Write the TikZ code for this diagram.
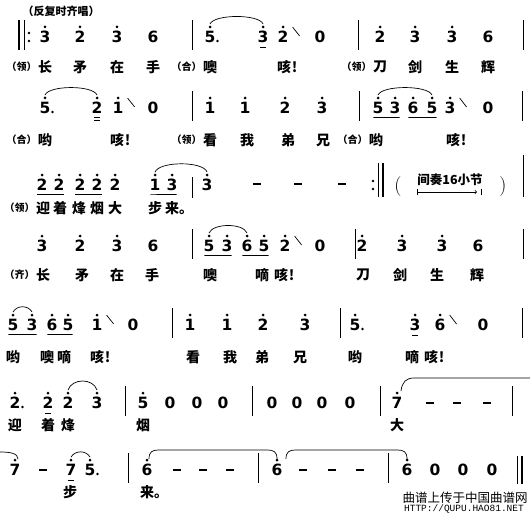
\documentclass[tikz,border=0pt]{standalone}
\usepackage{fontspec}
\usetikzlibrary{positioning,calc}
\newfontfamily\numfont{DejaVu Sans}
\newfontfamily\cjk{Noto Sans CJK SC}
\newfontfamily\urlfont{Liberation Mono}

% one row of notes: name, y, list of x/digit/mark (1 = high dot, 2 = high dot and dotted)
\newcommand\noterow[3]{%
  \foreach \x/\d/\m [count=\i] in {#3}{%
    \node[note] (#1\i) at (\x,#2) {\d};
    \ifcase\m
    \or \fill (\x,#2-10) circle (1.5pt);
    \or \fill (\x,#2-10) circle (1.5pt) (\x+7.5,#2+4) circle (1.4pt);
    \fi
  }}
\newcommand\wordrow[3]{%
  \foreach \x/\w [count=\i] in {#3}{\node[word] (#1\i) at (\x,#2) {\w};}}
\newcommand\bars[2]{\foreach \x in {#2} \draw[barline] (\x,#1-17) -- (\x,#1+13);}
\newcommand\holds[2]{\foreach \x in {#2} \draw[hold] (\x-4,#1) -- (\x+4,#1);}
\newcommand\slurto[3]{\draw[slur] ($(#1.north)+(0,-7)$) .. controls +(4,-#3) and +(-4,-#3) .. ($(#2.north)+(0,-7)$);}
\newcommand\underl[2]{\draw[uline] ($(#1.south west)+(1,3.5)$) -- ($(#2.south east)+(-1,3.5)$);}
\newcommand\shortline[1]{\draw[uline] ($(#1.south)+(-3,4)$) -- ($(#1.south)+(3,4)$);}
\newcommand\breath[1]{\draw[stroke] ($(#1.north east)+(4,-4)$) -- ($(#1.south east)+(11,-7)$);}

\begin{document}
\begin{tikzpicture}
  [x=1pt,y=-1pt,
   note/.style={font=\numfont\bfseries\fontsize{15.5}{15.5}\selectfont,inner sep=0pt},
   word/.style={font=\cjk\bfseries\fontsize{14}{14}\selectfont,inner sep=0pt},
   role/.style={font=\cjk\bfseries\fontsize{10}{10}\selectfont,inner sep=0pt},
   paren/.style={font=\normalfont\fontsize{20}{20}\selectfont,inner sep=0pt},
   barline/.style={line width=0.9pt},
   thickbar/.style={line width=2.5pt},
   slur/.style={line width=0.7pt},
   uline/.style={line width=0.7pt},
   hold/.style={line width=1.5pt},
   stroke/.style={line width=0.7pt},
  ]
 \useasboundingbox[fill=white] (0,0) rectangle (530,516);

 \node[font=\cjk\bfseries\fontsize{11}{11}\selectfont,inner sep=0pt] (head) at (61,11) {（反复时齐唱）};

 % row 1
 \draw[thickbar] (19,20) -- (19,50);
 \draw[barline] (24,20) -- (24,50);
 \fill (29,33) circle (1.3pt) (29,41) circle (1.3pt);
 \noterow{a}{37}{45/3/1,80/2/1,117/3/1,153/6/0,210/5/2,263/3/1,283/2/1,320/0/0,380/2/1,415/3/1,452/3/1,488/6/0}
 \bars{37}{192,358,523}
 \slurto{a5}{a6}{10}
 \shortline{a6}
 \breath{a7}
 \wordrow{la}{67}{45/长,80/矛,117/在,153/手,210/噢,284/{咳\rlap{\kern1pt!}},380/刀,415/剑,452/生,488/辉}
 \node[role,left=1pt of la1] (ra1) {（领）};
 \node[role,left=1pt of la5] (ra5) {（合）};
 \node[role,left=1pt of la7] (ra7) {（领）};

 % row 2
 \noterow{b}{108}{45/5/2,97/2/1,118/1/1,153/0/0,210/1/1,245/1/1,285/2/1,322/3/1,378/5/1,395/3/1,413/6/1,432/5/1,450/3/1,488/0/0}
 \bars{108}{192,359,522}
 \slurto{b1}{b2}{10}
 \slurto{b9}{b12}{10}
 \draw[uline] ($(b2.south)+(-3,3)$) -- ($(b2.south)+(3,3)$)
              ($(b2.south)+(-3,6)$) -- ($(b2.south)+(3,6)$);
 \underl{b9}{b10}
 \underl{b11}{b12}
 \breath{b3}
 \breath{b13}
 \wordrow{lb}{140}{45/哟,117/{咳\rlap{\kern1pt!}},210/看,247/我,288/弟,323/兄,376/哟,453/{咳\rlap{\kern1pt!}}}
 \node[role,left=1pt of lb1] (rb1) {（合）};
 \node[role,left=1pt of lb3] (rb3) {（领）};
 \node[role,left=1pt of lb7] (rb7) {（合）};

 % row 3
 \noterow{c}{185}{42/2/1,59/2/1,80/2/1,97/2/1,115/2/1,155/1/1,172/3/1,207/3/1}
 \draw[barline] (192,177) -- (192,198);
 \draw[barline] (523,155) -- (523,197);
 \slurto{c6}{c8}{11}
 \underl{c1}{c2}
 \underl{c3}{c4}
 \underl{c6}{c7}
 \holds{184}{257,298,342}
 \fill (373,181) circle (1.3pt) (373,189) circle (1.3pt);
 \draw[barline] (378,163) -- (378,197);
 \draw[thickbar] (383,163) -- (383,197);
 \node[paren] (pl) at (398,187) {(};
 \node[paren] (pr) at (503,187) {)};
 \node[font=\cjk\bfseries\fontsize{12.5}{12.5}\selectfont,inner sep=0pt] (jz) at (450,180) {间奏16小节};
 \coordinate (jzl) at (418,192);
 \coordinate (jzr) at (477,192);
 \draw[uline,->] (jzl) -- (jzr);
 \draw[uline] (417,189) -- (417,195) (481,189) -- (481,195);
 \wordrow{lc}{208}{43/迎,60/着,79/烽,97/烟,115/大,155/步,172/{来\rlap{。}}}
 \node[role,left=1pt of lc1] (rc1) {（领）};

 % row 4
 \noterow{d}{246}{42/3/1,80/2/1,117/3/1,153/6/0,209/5/1,227/3/1,247/6/1,264/5/1,285/2/1,320/0/0,362/2/1,402/3/1,442/3/1,478/6/0}
 \bars{246}{192,355,523}
 \slurto{d5}{d7}{10}
 \underl{d5}{d6}
 \underl{d7}{d8}
 \breath{d9}
 \wordrow{ld}{275}{43/长,82/矛,117/在,152/手,210/噢,262/嘀,281/{咳\rlap{\kern1pt!}},363/刀,400/剑,437/生,477/辉}
 \node[role,left=1pt of ld1] (rd1) {（齐）};

 % row 5
 \noterow{e}{325}{13/5/1,32/3/1,52/6/1,68/5/1,97/1/1,133/0/0,190/1/1,227/1/1,263/2/1,305/3/1,355/5/2,415/3/1,440/6/1,483/0/0}
 \bars{325}{172,340,522}
 \slurto{e1}{e2}{7}
 \underl{e1}{e2}
 \underl{e3}{e4}
 \shortline{e12}
 \breath{e5}
 \breath{e13}
 \wordrow{le}{357}{13/哟,47/噢,64/嘀,97/{咳\rlap{\kern1pt!}},193/看,230/我,262/弟,300/兄,355/哟,412/嘀,431/{咳\rlap{\kern1pt!}}}

 % row 6
 \noterow{f}{403}{15/2/2,48/2/1,68/2/1,97/3/1,143/5/1,170/0/0,197/0/0,223/0/0,272/0/0,297/0/0,322/0/0,350/0/0,397/7/1}
 \bars{403}{125,252,380,512}
 \slurto{f3}{f4}{12}
 \shortline{f2}
 \holds{403}{430,457,487}
 \coordinate (fend) at (530,378);
 \draw[slur] ($(f13.north)+(4,-6)$) .. controls +(1,-9) and +(-8,0) .. (414,378) -- (fend);
 \wordrow{lf}{425}{15/迎,48/着,68/烽,143/烟,397/大}

 % row 7
 \noterow{g}{470}{15/7/1,71/7/1,90/5/2,147/6/1,277/6/1,407/6/1,435/0/0,463/0/0,492/0/0}
 \bars{470}{128,258,388}
 \draw[barline] (517,456) -- (517,484);
 \draw[thickbar] (522,456) -- (522,484);
 \coordinate (gstart) at (0,452);
 \draw[slur] (gstart) .. controls +(10,0) and +(0,-6) .. ($(g1.north)+(3,-5)$);
 \slurto{g2}{g3}{7}
 \shortline{g2}
 \holds{470}{43,177,203,230,303,332,360}
 \draw[slur] ($(g4.north)+(2,-5)$) .. controls +(0,-7) and +(-7,0) .. +(10,-9)
   -- ($(g5.north)+(-10,-14)$) .. controls +(7,0) and +(0,-7) .. ($(g5.north)+(0,-5)$);
 \draw[slur] ($(g5.north)+(9,-5)$) .. controls +(0,-7) and +(-7,0) .. +(10,-9)
   -- ($(g6.north)+(-10,-14)$) .. controls +(7,0) and +(0,-7) .. ($(g6.north)+(0,-5)$);
 \wordrow{lg}{492}{70/步,147/{来\rlap{。}}}

 \node[font=\cjk\fontsize{12.5}{12.5}\selectfont,inner sep=0pt] (wm) at (465,498) {曲谱上传于中国曲谱网};
 \node[font=\urlfont\fontsize{9.5}{9.5}\selectfont,inner sep=0pt] (url) at (464,509) {HTTP://QUPU.HAO81.NET};
\end{tikzpicture}
\end{document}
